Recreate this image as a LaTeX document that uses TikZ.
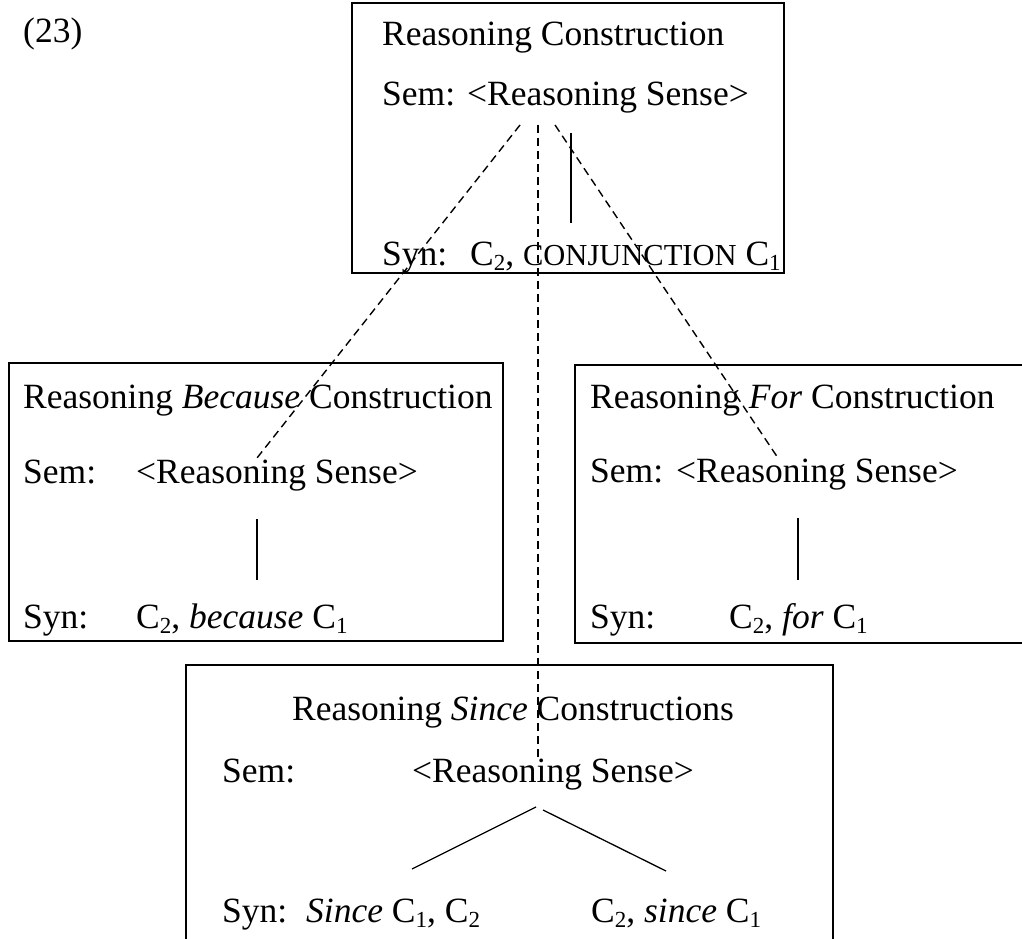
\documentclass[tikz,border=0pt]{standalone}
\usepackage{fontspec}
\setmainfont{Liberation Serif}
% lowered, smaller digit used as a subscript on C
\newcommand{\lowix}[1]{\raisebox{-0.32ex}{\fontsize{23}{23}\selectfont #1}}
\begin{document}
\begin{tikzpicture}[x=1pt,y=-1pt,
  txt/.style={anchor=base west, inner sep=0pt, font=\fontsize{35.5}{42}\selectfont},
  frame/.style={draw=black, line width=1.6pt},
  link/.style={line width=1.4pt, dash pattern=on 8pt off 5pt},
  stem/.style={line width=1.3pt}]
\useasboundingbox (0,0) rectangle (1022,939);

% example number
\node[txt] (num) at (23,43) {(23)};

% ---- general construction ----
\draw[frame] (352,3) rectangle (784,273);
\node[txt] (gTitle) at (382,46) {Reasoning Construction};
\node[txt] (gSemL) at (382,106) {Sem:};
\node[txt] (gSem) at (467,106) {<Reasoning Sense>};
\node[txt] (gSynL) at (382,265) {Syn:};
\node[txt] (gSyn) at (470,265) {C\lowix{2}, {\fontsize{30.5}{36}\selectfont CONJUNCTION} C\lowix{1}};
\coordinate (gTop) at (571,133);
\coordinate (gBot) at (571,223);
\draw[stem] (gTop) -- (gBot);

% ---- because construction ----
\draw[frame] (9,363) rectangle (503,641);
\node[txt] (bTitle) at (23,408) {Reasoning \textit{Because} Construction};
\node[txt] (bSemL) at (23,483) {Sem:};
\node[txt] (bSem) at (136,483) {<Reasoning Sense>};
\node[txt] (bSynL) at (23,628) {Syn:};
\node[txt] (bSyn) at (136,628) {C\lowix{2}, \textit{because} C\lowix{1}};
\coordinate (bTop) at (257,519);
\coordinate (bBot) at (257,580);
\draw[stem] (bTop) -- (bBot);

% ---- for construction ----
\draw[frame] (575,365) rectangle (1040,643);
\node[txt] (fTitle) at (590,408) {Reasoning \textit{For} Construction};
\node[txt] (fSemL) at (590,482) {Sem:};
\node[txt] (fSem) at (676,482) {<Reasoning Sense>};
\node[txt] (fSynL) at (590,628) {Syn:};
\node[txt] (fSyn) at (729,628) {C\lowix{2}, \textit{for} C\lowix{1}};
\coordinate (fTop) at (798,518);
\coordinate (fBot) at (798,580);
\draw[stem] (fTop) -- (fBot);

% ---- since constructions ----
\draw[frame] (186,665) rectangle (833,960);
\node[txt] (sTitle) at (292,720) {Reasoning \textit{Since} Constructions};
\node[txt] (sSemL) at (222,782) {Sem:};
\node[txt] (sSem) at (412,782) {<Reasoning Sense>};
\node[txt] (sSynL) at (222,922) {Syn:};
\node[txt] (sSynA) at (306,922) {\textit{Since} C\lowix{1}, C\lowix{2}};
\node[txt] (sSynB) at (591,922) {C\lowix{2}, \textit{since} C\lowix{1}};
\coordinate (sApexL) at (536,807);
\coordinate (sApexR) at (543,810);
\coordinate (sLeft) at (412,869);
\coordinate (sRight) at (666,871);
\draw[stem] (sApexL) -- (sLeft);
\draw[stem] (sApexR) -- (sRight);

% ---- inheritance links from the general sense ----
\coordinate (gL) at (520,125);
\coordinate (gM) at (538,125);
\coordinate (gR) at (555,125);
\coordinate (bEnd) at (257,458);
\coordinate (sEnd) at (538,757);
\coordinate (fEnd) at (778,458);
\draw[link] (gL) -- (bEnd);
\draw[link] (gM) -- (sEnd);
\draw[link] (gR) -- (fEnd);
\end{tikzpicture}
\end{document}
